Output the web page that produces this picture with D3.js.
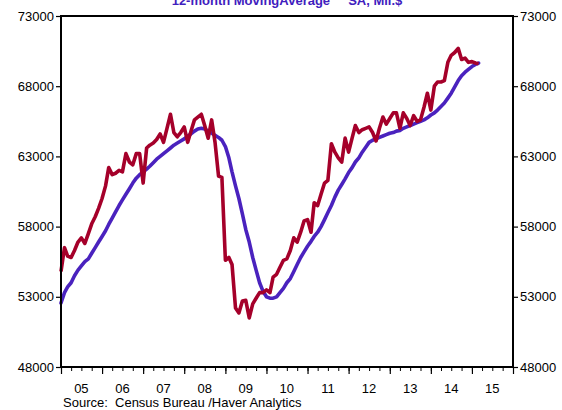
<!DOCTYPE html>
<html>
<head>
<meta charset="utf-8">
<script src="https://cdn.jsdelivr.net/npm/d3@7"></script>
<style>
  html, body { margin: 0; padding: 0; background: #fff; }
  svg { display: block; }
  text { font-family: "Liberation Sans", Arial, sans-serif; }
</style>
</head>
<body>
<div id="chart"></div>
<script>
// Monthly data starting Jan 2005
const startYear = 2005;
const actual = [
  54800, 56500, 55900, 55800, 56300, 56900, 57200, 56800, 57500, 58200, 58700, 59300,
  60000, 60900, 62200, 61700, 61800, 62000, 61900, 63200, 62600, 62400, 63200, 63200,
  61100, 63600, 63800, 63950, 64200, 64600, 64000, 65000, 66000, 64700, 64400, 64700,
  65100, 64000, 64800, 65600, 65800, 66000, 65200, 64300, 65600, 64000, 61600, 61500,
  55600, 55800, 55300, 52200, 51850, 52700, 52750, 51500, 52500, 52900, 53300, 53300,
  53500, 53300, 54400, 54600, 55100, 55600, 55700, 56300, 57200, 56900, 57600, 58400,
  58500, 57600, 59700, 59500, 60300, 61100, 61300, 63900, 63300, 62900, 62600, 64300,
  63300, 64300, 65200, 64700, 64900, 65000, 65100, 64700, 64100, 65000, 65800, 65300,
  65700, 66100, 66100, 65000, 66100, 65700, 65200, 65900, 65500, 65600, 66500, 67500,
  66300, 68000, 68300, 68300, 68400, 69700, 70200, 70400, 70700, 69900, 70000, 69700,
  69750, 69650, 69600
];
const movingAvg = [
  52560, 53300, 53700, 54000, 54500, 54900, 55200, 55500, 55700, 56100, 56500, 56900,
  57300, 57700, 58150, 58600, 59050, 59500, 59900, 60300, 60700, 61100, 61450, 61700,
  61900, 62100, 62300, 62550, 62800, 63000, 63200, 63400, 63600, 63800, 63950, 64100,
  64250, 64450, 64600, 64800, 64950, 65000, 64950, 64800, 64650, 64500, 64350, 64150,
  63700, 62900, 61900, 60900, 60000, 58900, 57800, 56900, 55800, 54900, 54000, 53400,
  53000, 52900, 52900, 53000, 53300, 53600, 54000, 54300, 54800, 55300, 55800, 56200,
  56600, 56950, 57300, 57600, 58000, 58500, 59000, 59500, 60100, 60600, 61000, 61400,
  61850, 62200, 62600, 62900, 63300, 63650, 64000, 64150, 64250, 64350, 64450, 64550,
  64650, 64700, 64800, 64850, 65000, 65100, 65200, 65300, 65400, 65500, 65600, 65750,
  65950, 66100, 66300, 66550, 66800, 67150, 67500, 67950, 68400, 68750, 69000, 69200,
  69400, 69550, 69650
];
const yTicks = [48000, 53000, 58000, 63000, 68000, 73000];
const yearLabels = ["05", "06", "07", "08", "09", "10", "11", "12", "13", "14", "15"];
const titleText = "12-month MovingAverage     SA, Mil.$";
const sourceText = "Source:  Census Bureau /Haver Analytics";

const W = 562, H = 410;
const L = 61, R = 513, T = 16, B = 367;

const svg = d3.select("#chart").append("svg").attr("width", W).attr("height", H);

const x = d3.scaleTime()
  .domain([new Date(2005, 0, 1), new Date(2016, 0, 1)])
  .range([L, R]);
const y = d3.scaleLinear().domain([48000, 73000]).range([B, T]);

const dateOf = i => new Date(startYear, i, 1);

// Title (partially clipped at the top)
svg.append("text")
  .attr("x", 287).attr("y", 5)
  .attr("text-anchor", "middle")
  .style("white-space", "pre")
  .attr("font-size", 13).attr("font-weight", "bold")
  .attr("fill", "#4020BE")
  .text(titleText);

// Lines
const line = d3.line().x((d, i) => x(dateOf(i))).y(d => y(d));
svg.append("path").datum(movingAvg)
  .attr("d", line).attr("fill", "none")
  .attr("stroke", "#4A22BE").attr("stroke-width", 3.6)
  .attr("stroke-linejoin", "round").attr("stroke-linecap", "round");
svg.append("path").datum(actual)
  .attr("d", line).attr("fill", "none")
  .attr("stroke", "#A5002A").attr("stroke-width", 3.6)
  .attr("stroke-linejoin", "round").attr("stroke-linecap", "butt");

// Y axes
const yl = svg.append("g").attr("transform", `translate(${L},0)`)
  .call(d3.axisLeft(y).tickValues(yTicks).tickSize(5).tickPadding(2).tickFormat(d3.format("d")));
const yr = svg.append("g").attr("transform", `translate(${R},0)`)
  .call(d3.axisRight(y).tickValues(yTicks).tickSize(5).tickPadding(2).tickFormat(d3.format("d")));
[yl, yr].forEach(g => {
  g.select(".domain").remove();
  g.selectAll("line").attr("stroke", "#000").attr("stroke-width", 1.2);
  g.selectAll("text").attr("font-size", 13).attr("fill", "#000")
    .attr("font-family", "Liberation Sans, Arial, sans-serif");
});

// X axis: quarterly minor ticks, yearly major ticks
const xMinor = svg.append("g").attr("transform", `translate(0,${B})`)
  .call(d3.axisBottom(x).ticks(d3.timeMonth.every(3)).tickSize(4).tickFormat(""));
xMinor.select(".domain").remove();
xMinor.selectAll("line").attr("stroke", "#000").attr("stroke-width", 1);
const xMajor = svg.append("g").attr("transform", `translate(0,${B})`)
  .call(d3.axisBottom(x).ticks(d3.timeYear.every(1)).tickSize(7).tickFormat(""));
xMajor.select(".domain").remove();
xMajor.selectAll("line").attr("stroke", "#000").attr("stroke-width", 1.2);

// Year labels at mid-year
svg.append("g").selectAll("text").data(yearLabels).join("text")
  .attr("x", (d, i) => x(new Date(2005 + i, 6, 1)))
  .attr("y", 393)
  .attr("text-anchor", "middle")
  .attr("font-size", 13).attr("fill", "#000")
  .text(d => d);

// Frame
svg.append("rect")
  .attr("x", L).attr("y", T).attr("width", R - L).attr("height", B - T)
  .attr("fill", "none").attr("stroke", "#000").attr("stroke-width", 2);

// Source
svg.append("text")
  .attr("x", 63).attr("y", 407)
  .style("white-space", "pre")
  .attr("font-size", 13).attr("fill", "#000")
  .text(sourceText);
</script>
</body>
</html>
